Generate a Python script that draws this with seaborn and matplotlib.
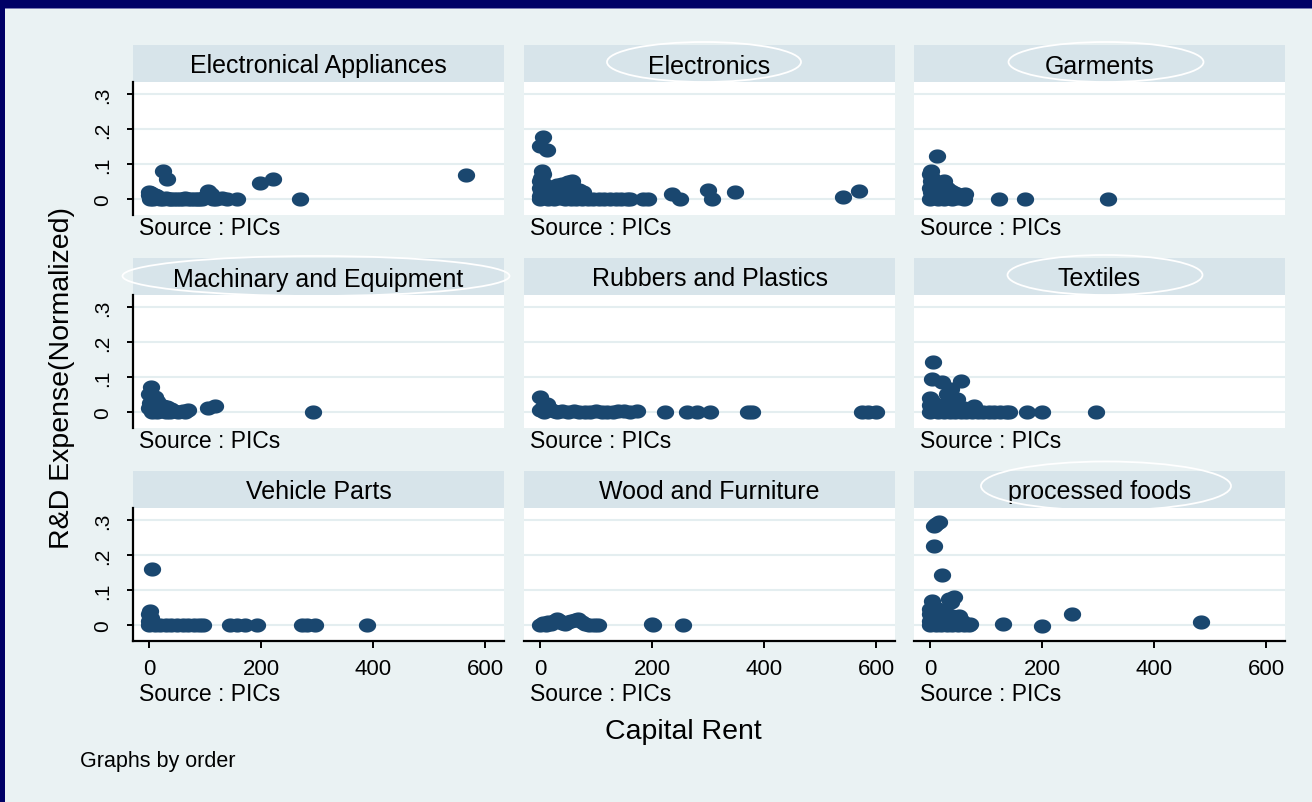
import numpy as np
import pandas as pd
import matplotlib
matplotlib.use("Agg")
import matplotlib.pyplot as plt
from matplotlib.patches import Rectangle, Ellipse
from matplotlib.path import Path
import seaborn as sns

# ---- data: capital rent vs. normalized R&D expense, by industry ----
industries = [
    "Electronical Appliances", "Electronics", "Garments",
    "Machinary and Equipment", "Rubbers and Plastics", "Textiles",
    "Vehicle Parts", "Wood and Furniture", "processed foods",
]

ea_rent = [0, 0, 1, 2, 3, 5, 6, 8, 10, 12, 15, 18, 20, 25, 30, 35, 40, 45, 50, 55,
           60, 65, 70, 75, 80, 85, 90, 95, 100, 105, 110, 115, 120, 130, 140, 158,
           25, 32, 198, 222, 270, 566]
ea_rd = [0.02, 0.01, 0.015, 0.0, 0.018, 0.005, 0.012, 0.0, 0.01, 0.004, 0.008, 0.003,
         0.0, 0.0, 0.002, 0.0, 0.0, 0.001, 0.0, 0.0, 0.0, 0.002, 0.0, 0.0, 0.0, 0.001,
         0.0, 0.0, 0.005, 0.022, 0.015, 0.0, 0.0, 0.002, 0.0, 0.0,
         0.08, 0.057, 0.046, 0.057, 0.0, 0.069]

el_rent = [5, 0, 12,
           3, 5, 2, 0, 6, 3, 0, 8, 2, 5, 0, 10, 0,
           20, 30, 40, 50, 57, 45, 60, 70, 77, 35, 25, 15, 50,
           15, 25, 35, 45, 55, 65, 75, 85, 95, 105, 115, 125, 135, 145, 155, 161,
           184, 193, 236, 250, 300, 307, 348, 541, 570]
el_rd = [0.177, 0.15, 0.14,
         0.08, 0.07, 0.06, 0.05, 0.045, 0.035, 0.03, 0.025, 0.02, 0.012, 0.008, 0.004, 0.0,
         0.035, 0.04, 0.043, 0.048, 0.051, 0.03, 0.03, 0.025, 0.02, 0.02, 0.015, 0.01, 0.01,
         0.0, 0.0, 0.002, 0.0, 0.0, 0.001, 0.0, 0.0, 0.0, 0.0, 0.001, 0.0, 0.0, 0.0, 0.0, 0.0,
         0.0, 0.0, 0.014, 0.0, 0.026, 0.0, 0.02, 0.006, 0.023]

ga_rent = [12.5,
           2, 0, 3, 1, 4, 0, 2, 5, 0, 8,
           15, 25, 20, 30, 38, 45, 55, 62, 12, 18, 28, 40, 50, 60, 15, 25,
           123, 170, 318]
ga_rd = [0.123,
         0.08, 0.07, 0.06, 0.05, 0.04, 0.03, 0.02, 0.01, 0.0, 0.005,
         0.045, 0.05, 0.035, 0.03, 0.022, 0.018, 0.012, 0.014, 0.02, 0.01, 0.005, 0.0,
         0.002, 0.0, 0.0, 0.0,
         0.0, 0.0, 0.0]

ma_rent = [4, 11, 0, 8, 2, 15, 20, 25, 32, 40, 0, 5, 10, 15, 22, 30, 38, 45, 52, 60,
           70, 64, 105, 118, 293]
ma_rd = [0.071, 0.043, 0.05, 0.035, 0.025, 0.03, 0.02, 0.017, 0.014, 0.008, 0.01, 0.0,
         0.005, 0.0, 0.003, 0.0, 0.0, 0.002, 0.0, 0.004, 0.006, 0.0, 0.012, 0.017, 0.0]

rp_rent = [0, 12, 5, 0, 8, 18, 25, 30, 40, 50, 60, 70, 80, 90, 100, 110, 120, 130, 140,
           150, 160, 173, 223, 262, 280, 304, 371, 378, 575, 586, 600]
rp_rd = [0.043, 0.023, 0.015, 0.005, 0.0, 0.008, 0.004, 0.0, 0.003, 0.0, 0.002, 0.0,
         0.001, 0.0, 0.002, 0.0, 0.001, 0.0, 0.003, 0.002, 0.0, 0.002, 0.0, 0.0, 0.0,
         0.0, 0.0, 0.0, 0.0, 0.0, 0.0]

tx_rent = [5, 4, 21, 37, 55, 48, 30,
           0, 3, 0, 6, 2, 0, 8, 12, 18, 25, 32, 40,
           79, 60, 70,
           15, 25, 35, 45, 55, 65, 75, 85, 95, 105, 115, 125, 135, 141, 173, 200, 296]
tx_rd = [0.143, 0.094, 0.086, 0.066, 0.089, 0.037, 0.05,
         0.04, 0.03, 0.02, 0.025, 0.01, 0.0, 0.005, 0.02, 0.015, 0.02, 0.025, 0.02,
         0.017, 0.01, 0.005,
         0.0, 0.0, 0.0, 0.0, 0.0, 0.0, 0.0, 0.0, 0.0, 0.0, 0.0, 0.0, 0.0, 0.0, 0.0, 0.0, 0.0]

vp_rent = [6, 2, 0, 3, 0, 5, 0, 10, 20, 30, 40, 50, 60, 70, 80, 90, 97,
           145, 157, 171, 193, 273, 282, 296, 389]
vp_rd = [0.16, 0.04, 0.03, 0.02, 0.01, 0.005, 0.0, 0.0, 0.0, 0.0, 0.0, 0.0, 0.0, 0.0,
         0.0, 0.0, 0.0, 0.0, 0.0, 0.0, 0.0, 0.0, 0.0, 0.0, 0.0]

wf_rent = [0, 5, 10, 15, 20, 25, 30, 35, 40, 45, 50, 55, 62, 68, 75, 80, 88, 96, 104,
           200, 202, 255]
wf_rd = [0.0, 0.005, 0.0, 0.008, 0.003, 0.01, 0.017, 0.01, 0.005, 0.002, 0.008, 0.01,
         0.014, 0.017, 0.008, 0.003, 0.0, 0.0, 0.0, 0.003, 0.0, 0.0]

pf_rent = [7, 16, 11, 7, 21, 4, 34, 43, 37,
           0, 8, 15, 22, 28, 0, 5, 0, 0, 10, 20, 30, 40, 52, 45, 58,
           20, 30, 40, 50, 60, 70, 72,
           130, 200, 254, 484]
pf_rd = [0.283, 0.294, 0.289, 0.226, 0.143, 0.069, 0.074, 0.08, 0.066,
         0.046, 0.04, 0.045, 0.04, 0.035, 0.03, 0.02, 0.01, 0.0, 0.0, 0.01, 0.02, 0.025,
         0.026, 0.015, 0.01,
         0.0, 0.0, 0.0, 0.0, 0.0, 0.0, 0.003,
         0.003, -0.003, 0.031, 0.009]

rents = [ea_rent, el_rent, ga_rent, ma_rent, rp_rent, tx_rent, vp_rent, wf_rent, pf_rent]
rds = [ea_rd, el_rd, ga_rd, ma_rd, rp_rd, tx_rd, vp_rd, wf_rd, pf_rd]

y_ticks = [0, 0.1, 0.2, 0.3]
y_ticklabels = ["0", ".1", ".2", ".3"]
x_ticks = [0, 200, 400, 600]
x_ticklabels = ["0", "200", "400", "600"]

df = pd.concat(
    [pd.DataFrame({"order": name, "rent": xs, "rd": ys})
     for name, xs, ys in zip(industries, rents, rds)],
    ignore_index=True,
)

# ---- style ----
sns.set_theme(style="white")
plt.rcParams["font.family"] = ["Liberation Sans", "DejaVu Sans"]

W, H = 1312, 803
MARKER = "#1a476f"
FIG_BG = "#eaf2f3"
STRIP = "#d7e4ea"
GRID = "#e4eef0"
FRAME = "#000066"

# slightly flattened round marker
theta = np.linspace(0, 2 * np.pi, 64)
ell_marker = Path(np.column_stack([np.cos(theta), 0.82 * np.sin(theta)]))

g = sns.relplot(
    data=df, x="rent", y="rd", col="order", col_wrap=3, col_order=industries,
    kind="scatter", color=MARKER, s=155, marker=ell_marker, linewidth=0,
    legend=False, height=2.5, aspect=1.5,
)
g.set_titles("")
g.set_axis_labels("", "")

fig = g.figure
fig.set_size_inches(W / 100, H / 100)
fig.set_facecolor(FIG_BG)

col_left = [133, 524, 914]
row_top = [83, 296, 509]
pw, ph = 371, 133
strip_h = 37

for i, ax in enumerate(g.axes.flat):
    r, c = divmod(i, 3)
    L, T = col_left[c], row_top[r]
    ax.set_position([L / W, 1 - (T + ph) / H, pw / W, ph / H])
    ax.set_facecolor("white")
    ax.set_xlim(-28.6, 634)
    ax.set_ylim(-0.046, 0.334)
    ax.set_yticks(y_ticks)
    ax.set_xticks(x_ticks)
    for sp in ax.spines.values():
        sp.set_visible(False)
    ax.yaxis.grid(True, color=GRID, lw=1.5, zorder=0)
    ax.xaxis.grid(False)
    ax.set_axisbelow(True)

    if c == 0:
        ax.spines["left"].set_visible(True)
        ax.spines["left"].set_color("black")
        ax.spines["left"].set_linewidth(1.6)
        ax.tick_params(axis="y", left=True, labelleft=True, length=4, width=1.4,
                       direction="out", color="black", pad=11, labelsize=15,
                       labelcolor="black")
        ax.set_yticklabels(y_ticklabels, rotation=90, va="center")
    else:
        ax.tick_params(axis="y", left=False, labelleft=False)

    if r == 2:
        ax.spines["bottom"].set_visible(True)
        ax.spines["bottom"].set_color("black")
        ax.spines["bottom"].set_linewidth(1.6)
        ax.tick_params(axis="x", bottom=True, labelbottom=True, length=5, width=1.4,
                       direction="out", color="black", pad=7, labelsize=16,
                       labelcolor="black")
        ax.set_xticklabels(x_ticklabels)
    else:
        ax.tick_params(axis="x", bottom=False, labelbottom=False)

    # panel header strip and title
    ax.add_patch(Rectangle((0, 1), 1, strip_h / ph, transform=ax.transAxes,
                           facecolor=STRIP, edgecolor="none", clip_on=False))
    ax.text(0.5, 1 + (strip_h / 2 - 2) / ph, industries[i], transform=ax.transAxes,
            ha="center", va="center", fontsize=18, color="black")

    # source note under each panel
    note_dy = 13 if r < 2 else 53
    ax.text(6 / pw, -note_dy / ph, "Source : PICs", transform=ax.transAxes,
            ha="left", va="center", fontsize=16.5, color="black")

# axis titles and by-note
fig.text(62 / W, 1 - 378 / H, "R&D Expense(Normalized)", rotation=90,
         ha="center", va="center", fontsize=20.5, color="black")
fig.text(683 / W, 1 - 732 / H, "Capital Rent", ha="center", va="center",
         fontsize=20.5, color="black")
fig.text(80 / W, 1 - 762 / H, "Graphs by order", ha="left", va="center",
         fontsize=15.5, color="black")

# highlight ovals around some headers
ovals = [
    (704, 63, 194, 40),
    (1106, 63, 195, 40),
    (316, 277, 387, 40),
    (1105, 276, 195, 40),
    (1106, 487, 250, 49),
]
for cx, cy, w, h in ovals:
    fig.add_artist(Ellipse((cx / W, 1 - cy / H), w / W, h / H,
                           transform=fig.transFigure, fill=False,
                           edgecolor="white", lw=1.3))

# dark frame along the top and left edges
fig.add_artist(Rectangle((0, 1 - 9 / H), 1, 9 / H, transform=fig.transFigure,
                         facecolor=FRAME, edgecolor="none"))
fig.add_artist(Rectangle((0, 1 - 10 / H), 1, 1 / H, transform=fig.transFigure,
                         facecolor="#7a7ab4", edgecolor="none"))
fig.add_artist(Rectangle((0, 0), 5 / W, 1, transform=fig.transFigure,
                         facecolor=FRAME, edgecolor="none"))

fig.savefig("out.png", dpi=100, facecolor=FIG_BG)
